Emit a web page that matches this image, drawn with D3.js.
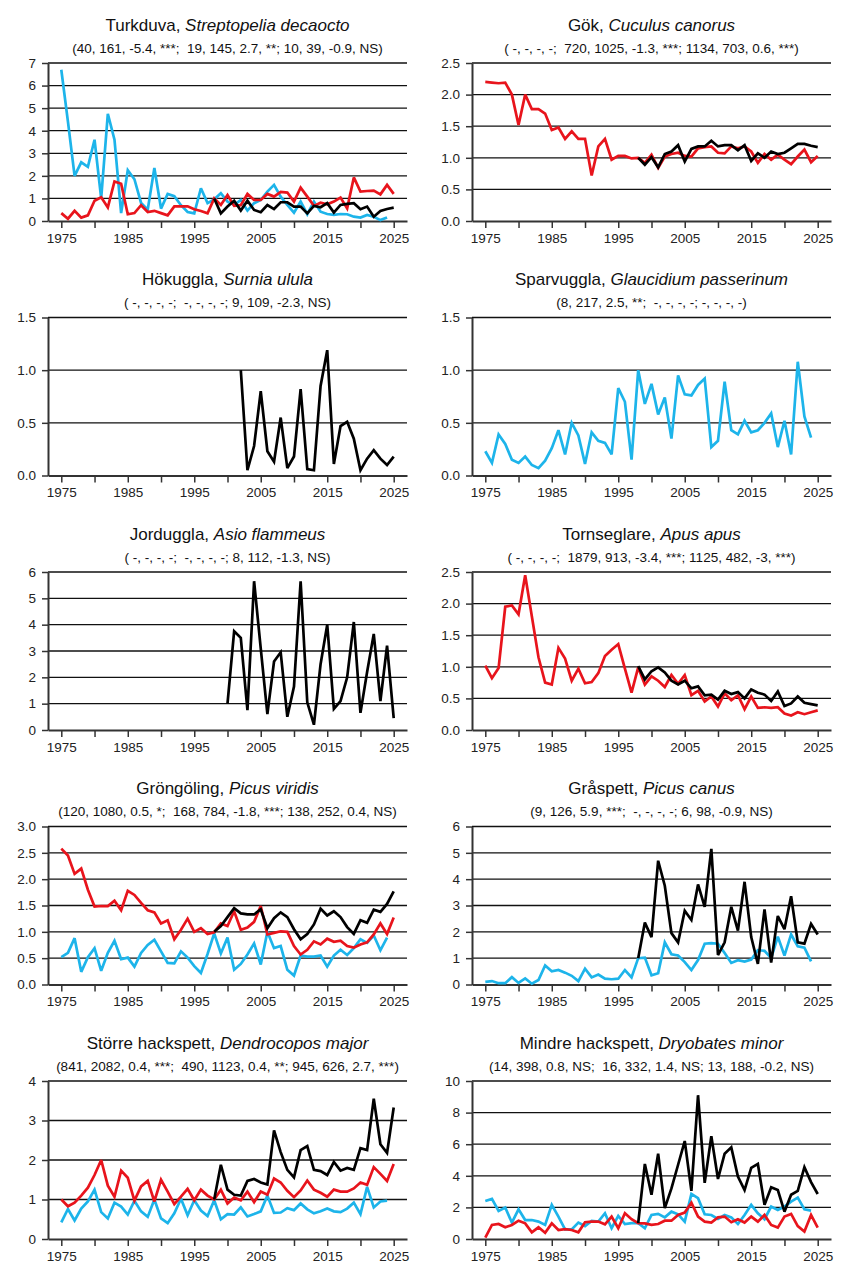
<!DOCTYPE html>
<html>
<head>
<meta charset="utf-8">
<script src="https://cdn.jsdelivr.net/npm/d3@7"></script>
<style>
  body { margin: 0; background: #fff; }
  svg { font-family: "Liberation Sans", Arial, sans-serif; }
  .stats { white-space: pre; }
</style>
</head>
<body>
<script>
// ---- Data (index values per year) ----
// blue series start 1975 and end 2024, red 1975-2025, black 1998-2025 unless noted

const turkduvaBlue = [6.7, 4.4, 2.0, 2.6, 2.4, 3.6, 1.0, 4.75, 3.6, 0.35,
  2.25, 1.85, 0.8, 0.5, 2.35, 0.55, 1.2, 1.1, 0.7, 0.4,
  0.34, 1.45, 0.79, 0.96, 1.23, 0.86, 0.71, 0.93, 0.46, 0.79,
  0.93, 1.3, 1.6, 1.08, 0.71, 0.37, 0.86, 0.3, 0.86, 0.41,
  0.31, 0.27, 0.31, 0.3, 0.19, 0.15, 0.27, 0.19, 0.04, 0.16];
const turkduvaRed = [0.35, 0.1, 0.45, 0.15, 0.25, 0.9, 1.05, 0.6, 1.75, 1.65,
  0.3, 0.35, 0.7, 0.4, 0.45, 0.35, 0.25, 0.65, 0.65, 0.65,
  0.52, 0.44, 0.34, 1.0, 0.71, 1.15, 0.67, 0.7, 1.2, 0.93,
  0.93, 1.2, 1.08, 1.29, 1.26, 0.86, 1.48, 1.08, 0.67, 0.81,
  0.74, 0.86, 1.04, 0.56, 1.93, 1.3, 1.33, 1.35, 1.18, 1.6, 1.2];
const turkduvaBlack = [1.0, 0.34, 0.64, 0.9, 0.46, 0.9, 0.49, 0.39, 0.71, 0.53,
  0.83, 0.83, 0.64, 0.64, 0.34, 0.67, 0.61, 0.79, 0.37, 0.71,
  0.76, 0.79, 0.52, 0.64, 0.19, 0.44, 0.53, 0.59];

const gokRed = [2.2, 2.19, 2.18, 2.19, 2.0, 1.52, 2.0, 1.77, 1.77, 1.7,
  1.44, 1.48, 1.3, 1.42, 1.3, 1.3, 0.72, 1.18, 1.3, 0.97,
  1.03, 1.03, 0.99, 1.0, 0.92, 1.05, 0.84, 1.02, 1.06, 1.08,
  1.03, 1.02, 1.15, 1.17, 1.18, 1.08, 1.07, 1.18, 1.15, 1.18,
  1.1, 0.92, 1.06, 0.97, 1.05, 0.97, 0.9, 1.02, 1.13, 0.93, 1.03];
const gokBlack = [1.0, 0.89, 1.01, 0.85, 1.06, 1.1, 1.2, 0.94, 1.14, 1.18,
  1.18, 1.27, 1.18, 1.2, 1.2, 1.12, 1.2, 0.95, 1.07, 1.0,
  1.1, 1.06, 1.08, 1.15, 1.22, 1.22, 1.19, 1.17];

// Hökuggla black starts 2002
const hokugglaBlack = [1.0, 0.05, 0.28, 0.8, 0.23, 0.13, 0.55, 0.07, 0.18, 0.82,
  0.06, 0.05, 0.85, 1.19, 0.11, 0.47, 0.51, 0.35, 0.05, 0.16,
  0.24, 0.16, 0.1, 0.18];

const sparvugglaBlue = [0.23, 0.12, 0.39, 0.3, 0.15, 0.12, 0.18, 0.1, 0.07, 0.14,
  0.26, 0.43, 0.2, 0.5, 0.38, 0.11, 0.41, 0.33, 0.31, 0.2,
  0.83, 0.7, 0.15, 1.0, 0.68, 0.87, 0.58, 0.74, 0.35, 0.95,
  0.77, 0.76, 0.86, 0.92, 0.27, 0.33, 0.89, 0.43, 0.39, 0.52,
  0.41, 0.43, 0.5, 0.59, 0.27, 0.52, 0.2, 1.08, 0.56, 0.36];

// Jorduggla black starts 2000
const jordugglaBlack = [1.0, 3.75, 3.5, 0.75, 5.65, 3.1, 0.6, 2.6, 2.95, 0.5,
  1.65, 5.65, 1.05, 0.2, 2.5, 4.0, 0.8, 1.1, 2.0, 4.1,
  0.65, 2.2, 3.65, 1.1, 3.2, 0.45];

const tornseglareRed = [1.02, 0.82, 0.98, 1.95, 1.97, 1.83, 2.45, 1.8, 1.15, 0.75,
  0.72, 1.3, 1.13, 0.78, 0.97, 0.74, 0.76, 0.9, 1.17, 1.27,
  1.36, 0.97, 0.59, 0.99, 0.72, 0.85, 0.78, 0.68, 0.87, 0.73,
  0.87, 0.55, 0.62, 0.45, 0.53, 0.37, 0.58, 0.47, 0.55, 0.33,
  0.53, 0.35, 0.36, 0.35, 0.36, 0.26, 0.23, 0.28, 0.25, 0.28, 0.31];
const tornseglareBlack = [1.01, 0.8, 0.93, 0.99, 0.91, 0.78, 0.72, 0.78, 0.66, 0.69,
  0.55, 0.56, 0.48, 0.62, 0.57, 0.6, 0.5, 0.64, 0.59, 0.56,
  0.46, 0.61, 0.38, 0.42, 0.53, 0.43, 0.41, 0.39];

const grongolingBlue = [0.52, 0.6, 0.88, 0.24, 0.52, 0.69, 0.26, 0.6, 0.83, 0.48,
  0.51, 0.34, 0.6, 0.75, 0.85, 0.63, 0.41, 0.4, 0.63, 0.51,
  0.35, 0.22, 0.58, 0.97, 0.59, 0.89, 0.28, 0.39, 0.57, 0.78,
  0.38, 1.0, 0.69, 0.73, 0.28, 0.17, 0.55, 0.53, 0.53, 0.55,
  0.34, 0.55, 0.66, 0.56, 0.69, 0.86, 0.79, 0.93, 0.65, 0.89];
const grongolingRed = [2.58, 2.45, 2.1, 2.2, 1.8, 1.48, 1.49, 1.49, 1.59, 1.41,
  1.78, 1.7, 1.55, 1.41, 1.37, 1.16, 1.22, 0.86, 1.04, 1.25,
  1.0, 1.07, 0.96, 0.99, 1.16, 1.11, 1.39, 1.04, 1.08, 1.19,
  1.49, 0.95, 0.98, 1.01, 1.0, 0.73, 0.57, 0.66, 0.82, 0.76,
  0.87, 0.81, 0.83, 0.73, 0.7, 0.76, 0.8, 0.95, 1.16, 0.96, 1.27];
const grongolingBlack = [1.0, 1.11, 1.28, 1.45, 1.35, 1.33, 1.33, 1.43, 1.07, 1.26,
  1.37, 1.28, 1.05, 0.86, 0.96, 1.14, 1.44, 1.31, 1.39, 1.28,
  1.09, 0.96, 1.22, 1.17, 1.42, 1.38, 1.53, 1.77];

const graspettBlue = [0.1, 0.13, 0.05, 0.05, 0.28, 0.06, 0.23, 0.03, 0.17, 0.72,
  0.5, 0.55, 0.45, 0.33, 0.13, 0.6, 0.27, 0.38, 0.22, 0.2,
  0.22, 0.55, 0.27, 1.0, 1.02, 0.35, 0.43, 1.6, 1.15, 1.1,
  0.85, 0.55, 0.93, 1.55, 1.57, 1.55, 1.2, 0.82, 0.92, 0.87,
  0.95, 1.3, 1.28, 1.0, 1.82, 1.1, 1.9, 1.45, 1.4, 0.88];
const graspettBlack = [1.0, 2.35, 1.8, 4.7, 3.75, 1.95, 1.6, 2.8, 2.45, 3.8,
  2.95, 5.15, 1.12, 1.6, 2.95, 2.05, 3.9, 1.8, 0.78, 2.85,
  0.83, 2.6, 2.1, 3.35, 1.6, 1.55, 2.3, 1.9];

const storreBlue = [0.42, 0.76, 0.47, 0.77, 0.95, 1.25, 0.68, 0.52, 0.92, 0.82,
  0.62, 0.97, 0.7, 0.56, 1.0, 0.52, 0.4, 0.65, 1.02, 0.6,
  0.98, 0.72, 0.58, 0.98, 0.5, 0.63, 0.62, 0.8, 0.57, 0.63,
  0.7, 1.1, 0.66, 0.67, 0.78, 0.73, 0.9, 0.75, 0.65, 0.7,
  0.77, 0.7, 0.68, 0.77, 0.92, 0.63, 1.32, 0.8, 0.95, 0.97];
const storreRed = [1.0, 0.83, 0.92, 1.1, 1.3, 1.62, 2.0, 1.35, 1.07, 1.73,
  1.55, 0.97, 1.33, 1.47, 0.95, 1.5, 1.2, 0.88, 1.07, 1.27,
  0.98, 1.25, 1.1, 1.0, 1.25, 0.9, 1.05, 0.98, 1.2, 0.93,
  1.2, 1.12, 1.53, 1.43, 1.22, 1.06, 1.23, 1.48, 1.25, 1.17,
  1.07, 1.25, 1.2, 1.2, 1.28, 1.43, 1.37, 1.82, 1.65, 1.47, 1.9];
const storreBlack = [1.0, 1.88, 1.25, 1.12, 1.1, 1.47, 1.52, 1.43, 1.38, 2.75,
  2.2, 1.75, 1.56, 2.25, 2.35, 1.75, 1.72, 1.62, 1.95, 1.73,
  1.8, 1.75, 2.3, 2.25, 3.55, 2.4, 2.18, 3.33];

const mindreBlue = [2.41, 2.54, 1.78, 1.99, 1.04, 1.88, 1.2, 1.2, 1.1, 0.89,
  2.16, 1.42, 0.61, 0.61, 1.04, 0.82, 1.14, 1.1, 1.63, 0.68,
  1.46, 0.95, 1.0, 1.0, 0.68, 1.52, 1.59, 1.37, 1.73, 1.56,
  1.1, 2.85, 2.58, 1.56, 1.52, 1.27, 1.52, 1.37, 0.95, 1.52,
  2.16, 1.63, 1.25, 2.05, 1.84, 2.05, 2.37, 2.62, 1.88, 1.8];
const mindreRed = [0.08, 0.89, 0.95, 0.74, 0.89, 1.16, 0.99, 0.42, 0.74, 0.4,
  0.99, 0.57, 0.63, 0.57, 0.42, 1.06, 1.1, 1.1, 0.93, 1.42,
  0.68, 1.63, 1.25, 1.0, 0.99, 0.89, 0.95, 1.16, 1.16, 1.52,
  1.67, 2.3, 1.42, 1.1, 1.04, 1.37, 1.42, 1.06, 1.25, 1.04,
  1.42, 1.1, 1.52, 0.89, 0.72, 1.42, 1.59, 0.82, 0.47, 1.52, 0.72];
const mindreBlack = [1.0, 4.75, 2.8, 5.4, 1.95, 3.2, 4.7, 6.2, 3.05, 9.1,
  3.55, 6.5, 3.8, 5.4, 5.8, 3.95, 3.1, 4.5, 4.75, 2.16,
  3.28, 3.1, 1.73, 2.8, 3.05, 4.55, 3.6, 2.85];

// Titles, stats lines and y tick values
const names = ['Turkduva', 'Gök', 'Hökuggla', 'Sparvuggla', 'Jorduggla',
  'Tornseglare', 'Gröngöling', 'Gråspett', 'Större hackspett', 'Mindre hackspett'];
const latinNames = ['Streptopelia decaocto', 'Cuculus canorus', 'Surnia ulula',
  'Glaucidium passerinum', 'Asio flammeus', 'Apus apus', 'Picus viridis',
  'Picus canus', 'Dendrocopos major', 'Dryobates minor'];
const statsLines = [
  '(40, 161, -5.4, ***;  19, 145, 2.7, **; 10, 39, -0.9, NS)',
  '( -, -, -, -;  720, 1025, -1.3, ***; 1134, 703, 0.6, ***)',
  '( -, -, -, -;  -, -, -, -; 9, 109, -2.3, NS)',
  '(8, 217, 2.5, **;  -, -, -, -; -, -, -, -)',
  '( -, -, -, -;  -, -, -, -; 8, 112, -1.3, NS)',
  '( -, -, -, -;  1879, 913, -3.4, ***; 1125, 482, -3, ***)',
  '(120, 1080, 0.5, *;  168, 784, -1.8, ***; 138, 252, 0.4, NS)',
  '(9, 126, 5.9, ***;  -, -, -, -; 6, 98, -0.9, NS)',
  '(841, 2082, 0.4, ***;  490, 1123, 0.4, **; 945, 626, 2.7, ***)',
  '(14, 398, 0.8, NS;  16, 332, 1.4, NS; 13, 188, -0.2, NS)'
];
const yTickSets = [
  [0, 1, 2, 3, 4, 5, 6, 7],
  [0, 0.5, 1, 1.5, 2, 2.5],
  [0, 0.5, 1, 1.5],
  [0, 0.5, 1, 1.5],
  [0, 1, 2, 3, 4, 5, 6],
  [0, 0.5, 1, 1.5, 2, 2.5],
  [0, 0.5, 1, 1.5, 2, 2.5, 3],
  [0, 1, 2, 3, 4, 5, 6],
  [0, 1, 2, 3, 4],
  [0, 2, 4, 6, 8, 10]
];
const xTickYears = d3.range(1975, 2026, 5);
const xLabelYears = [1975, 1985, 1995, 2005, 2015, 2025];

// series per panel: [values, first year, kind]
const panelSeries = [
  [[turkduvaBlue, 1975, 'blue'], [turkduvaRed, 1975, 'red'], [turkduvaBlack, 1998, 'black']],
  [[gokRed, 1975, 'red'], [gokBlack, 1998, 'black']],
  [[hokugglaBlack, 2002, 'black']],
  [[sparvugglaBlue, 1975, 'blue']],
  [[jordugglaBlack, 2000, 'black']],
  [[tornseglareRed, 1975, 'red'], [tornseglareBlack, 1998, 'black']],
  [[grongolingBlue, 1975, 'blue'], [grongolingRed, 1975, 'red'], [grongolingBlack, 1998, 'black']],
  [[graspettBlue, 1975, 'blue'], [graspettBlack, 1998, 'black']],
  [[storreBlue, 1975, 'blue'], [storreRed, 1975, 'red'], [storreBlack, 1998, 'black']],
  [[mindreBlue, 1975, 'blue'], [mindreRed, 1975, 'red'], [mindreBlack, 1998, 'black']]
];

// ---- Layout ----
const WIDTH = 848, HEIGHT = 1272;
const COL_X = [48, 472];
const PLOT_W = 359, PLOT_H = 158;
const ROW_TOP = 63, ROW_STEP = 254.5;
const COLORS = { blue: '#1db4ea', red: '#e8141c', black: '#000000' };

const svg = d3.select('body')
  .append('svg')
  .attr('width', WIDTH)
  .attr('height', HEIGHT);

names.forEach(function(name, i) {
  const col = i % 2, row = Math.floor(i / 2);
  const g = svg.append('g')
    .attr('transform', 'translate(' + COL_X[col] + ',' + (ROW_TOP + row * ROW_STEP) + ')');

  const yTicks = yTickSets[i];
  const yMax = d3.max(yTicks);
  const x = d3.scaleLinear().domain([1973, 2027]).range([0, PLOT_W]);
  const y = d3.scaleLinear().domain([0, yMax]).range([PLOT_H, 0]);
  const step = yTicks[1] - yTicks[0];
  const fmt = (step % 1 === 0) ? d3.format('d') : d3.format('.1f');

  // gridlines
  g.selectAll('.grid')
    .data(yTicks.filter(function(t) { return t > 0; }))
    .enter().append('line')
    .attr('class', 'grid')
    .attr('x1', 0).attr('x2', PLOT_W)
    .attr('y1', function(d) { return y(d); })
    .attr('y2', function(d) { return y(d); })
    .attr('stroke', '#111')
    .attr('stroke-width', 1.3);

  // x axis
  const xAxis = d3.axisBottom(x)
    .tickValues(xTickYears)
    .tickSize(7)
    .tickSizeOuter(0)
    .tickFormat(function(d) { return xLabelYears.indexOf(d) >= 0 ? d : ''; });
  const gx = g.append('g')
    .attr('transform', 'translate(0,' + PLOT_H + ')')
    .call(xAxis);
  gx.select('.domain').attr('stroke', '#333').attr('stroke-width', 2);
  gx.selectAll('.tick line').attr('stroke', '#333').attr('stroke-width', 1.5);
  gx.selectAll('.tick text')
    .attr('y', 12)
    .attr('font-size', 13.5)
    .attr('font-family', '"Liberation Sans", Arial, sans-serif')
    .attr('fill', '#222');

  // y axis
  const yAxis = d3.axisLeft(y)
    .tickValues(yTicks)
    .tickSize(6)
    .tickSizeOuter(0)
    .tickFormat(fmt);
  const gy = g.append('g').call(yAxis);
  gy.select('.domain').attr('stroke', '#333').attr('stroke-width', 2);
  gy.selectAll('.tick line').attr('stroke', '#333').attr('stroke-width', 1.5);
  gy.selectAll('.tick text')
    .attr('x', -12)
    .attr('font-size', 13.5)
    .attr('font-family', '"Liberation Sans", Arial, sans-serif')
    .attr('fill', '#222');

  // series lines
  const line = d3.line()
    .x(function(d) { return x(d.year); })
    .y(function(d) { return y(d.value); });

  panelSeries[i].forEach(function(s) {
    const pts = s[0].map(function(v, k) { return { year: s[1] + k, value: v }; });
    g.append('path')
      .datum(pts)
      .attr('d', line)
      .attr('fill', 'none')
      .attr('stroke', COLORS[s[2]])
      .attr('stroke-width', 2.7)
      .attr('stroke-linejoin', 'miter')
      .attr('stroke-miterlimit', 3);
  });

  // title
  const title = g.append('text')
    .attr('x', PLOT_W / 2)
    .attr('y', -38)
    .attr('dy', '0.35em')
    .attr('text-anchor', 'middle')
    .attr('font-size', 17)
    .attr('fill', '#111');
  title.append('tspan').text(name + ', ');
  title.append('tspan').attr('font-style', 'italic').text(latinNames[i]);

  g.append('text')
    .attr('class', 'stats')
    .attr('x', PLOT_W / 2)
    .attr('y', -15)
    .attr('dy', '0.35em')
    .attr('text-anchor', 'middle')
    .attr('font-size', 13.5)
    .attr('fill', '#111')
    .text(statsLines[i]);
});
</script>
</body>
</html>
